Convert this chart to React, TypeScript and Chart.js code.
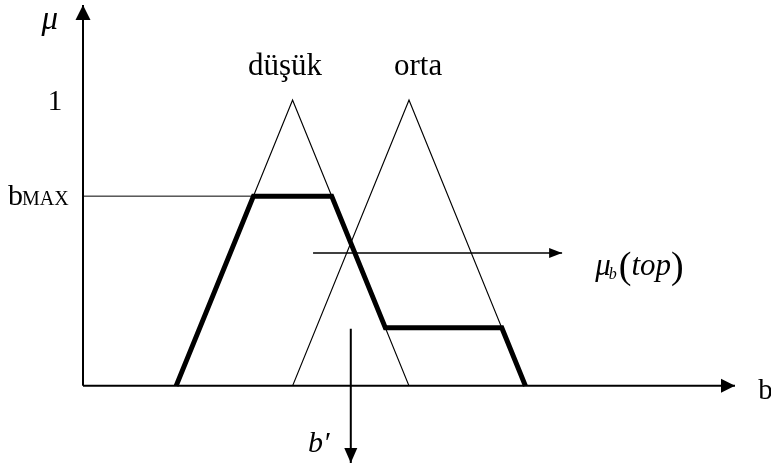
import React, { useEffect, useRef } from "react";
import { Chart, registerables } from "chart.js";

Chart.register(...registerables);

// Membership functions (x in b units, y in μ)
const dusukX = [1, 2, 3];
const dusukY = [0, 1, 0];
const ortaX = [2, 3, 4];
const ortaY = [0, 1, 0];
// Resulting (clipped) output set
const resultX = [1, 1.664, 2.336, 2.797, 3.797, 4];
const resultY = [0, 0.664, 0.664, 0.203, 0.203, 0];
// b_MAX level line
const bMaxLevel = 0.664;
const bMaxX = [0.2, 1.664];
// arrows
const topArrowX = [2.176, 4.315];
const topArrowY = [0.465, 0.465];
const primeArrowX = [2.5, 2.5];
const primeArrowY = [0.2, -0.27];
// axes
const xAxisX = [0.2, 5.8];
const xAxisY = [0, 0];
const yAxisX = [0.2, 0.2];
const yAxisY = [0, 1.333];
// tick label
const tickLabels = ["1"];
const tickValues = [1];

const pts = (xs: number[], ys: number[]) => xs.map((x, i) => ({ x, y: ys[i] }));

const SERIF = "'Liberation Serif', 'DejaVu Serif', serif";

export default function App() {
  const ref = useRef<HTMLCanvasElement | null>(null);

  useEffect(() => {
    if (!ref.current) return;
    const black = "#000";
    const base = {
      borderColor: black,
      pointRadius: 0,
      showLine: true,
      fill: false,
      tension: 0,
      clip: false as any,
    };

    const arrowPlugin = {
      id: "annot",
      afterDatasetsDraw(chart: any) {
        const ctx = chart.ctx as CanvasRenderingContext2D;
        const xs = chart.scales.x;
        const ys = chart.scales.y;
        const px = (v: number) => xs.getPixelForValue(v);
        const py = (v: number) => ys.getPixelForValue(v);
        ctx.save();
        ctx.fillStyle = black;

        // arrowheads at the last point of datasets flagged with arrow
        chart.data.datasets.forEach((ds: any) => {
          if (!ds.arrow) return;
          const d = ds.data;
          const a = d[d.length - 2];
          const b = d[d.length - 1];
          const x1 = px(a.x), y1 = py(a.y), x2 = px(b.x), y2 = py(b.y);
          const ang = Math.atan2(y2 - y1, x2 - x1);
          const L = ds.arrow.len, W = ds.arrow.half;
          ctx.beginPath();
          ctx.moveTo(x2, y2);
          ctx.lineTo(x2 - L * Math.cos(ang) + W * Math.sin(ang), y2 - L * Math.sin(ang) - W * Math.cos(ang));
          ctx.lineTo(x2 - L * Math.cos(ang) - W * Math.sin(ang), y2 - L * Math.sin(ang) + W * Math.cos(ang));
          ctx.closePath();
          ctx.fill();
        });

        const txt = (s: string, x: number, y: number) => ctx.fillText(s, x, y);

        ctx.textBaseline = "alphabetic";
        // μ axis title
        ctx.font = `italic 33px ${SERIF}`;
        ctx.textAlign = "center";
        txt("μ", px(-0.085), py(1.25));
        // tick "1"
        ctx.font = `29px ${SERIF}`;
        ctx.textBaseline = "middle";
        tickLabels.forEach((t, i) => txt(t, px(-0.04), py(tickValues[i]) + 2));
        ctx.textBaseline = "alphabetic";
        // b_MAX
        ctx.textAlign = "left";
        const bmx = px(-0.444);
        const bmy = py(bMaxLevel) + 9;
        ctx.font = `30px ${SERIF}`;
        txt("b", bmx, bmy);
        const bw = ctx.measureText("b").width;
        ctx.font = `20px ${SERIF}`;
        txt("MAX", bmx + bw - 1, bmy);
        // set names
        ctx.font = `31px ${SERIF}`;
        ctx.textAlign = "center";
        txt("düşük", px(1.935), py(1.089));
        txt("orta", px(3.078), py(1.089));
        // axis b
        ctx.textAlign = "left";
        ctx.font = `29px ${SERIF}`;
        txt("b", px(6.0), py(-0.0455));
        // b′
        ctx.font = `italic 30px ${SERIF}`;
        txt("b′", px(2.133), py(-0.231));
        // μb(top)
        let x0 = px(4.599);
        const y0 = py(0.389);
        ctx.font = `italic 31px ${SERIF}`;
        txt("μ", x0, y0);
        x0 += ctx.measureText("μ").width;
        ctx.font = `italic 16px ${SERIF}`;
        txt("b", x0 - 2, y0 + 4);
        x0 += ctx.measureText("b").width;
        ctx.font = `38px ${SERIF}`;
        txt("(", x0, y0 + 3);
        x0 += ctx.measureText("(").width;
        ctx.font = `italic 31px ${SERIF}`;
        txt("top", x0, y0);
        x0 += ctx.measureText("top").width;
        ctx.font = `38px ${SERIF}`;
        txt(")", x0, y0 + 3);
        ctx.restore();
      },
    };

    const chart = new Chart(ref.current, {
      type: "scatter",
      data: {
        datasets: [
          { ...base, label: "düşük", data: pts(dusukX, dusukY), borderWidth: 1.2 },
          { ...base, label: "orta", data: pts(ortaX, ortaY), borderWidth: 1.2 },
          { ...base, label: "bmax", data: pts(bMaxX, [bMaxLevel, bMaxLevel]), borderWidth: 1 },
          { ...base, label: "result", data: pts(resultX, resultY), borderWidth: 5, borderJoinStyle: "miter" },
          { ...base, label: "top", data: pts(topArrowX, topArrowY), borderWidth: 1.5, arrow: { len: 13, half: 5 } },
          { ...base, label: "prime", data: pts(primeArrowX, primeArrowY), borderWidth: 2, arrow: { len: 15, half: 6.5 } },
          { ...base, label: "xaxis", data: pts(xAxisX, xAxisY), borderWidth: 2, arrow: { len: 14, half: 7 } },
          { ...base, label: "yaxis", data: pts(yAxisX, yAxisY), borderWidth: 2, arrow: { len: 15, half: 7.5 } },
        ] as any,
      },
      options: {
        animation: false,
        responsive: false,
        layout: { padding: { left: 83, right: 36, top: 5, bottom: 4 } },
        plugins: { legend: { display: false }, tooltip: { enabled: false } },
        scales: {
          x: { type: "linear", min: 0.2, max: 5.8, display: false },
          y: { type: "linear", min: -0.27, max: 1.333, display: false },
        },
      },
      plugins: [arrowPlugin],
    });
    return () => chart.destroy();
  }, []);

  return (
    <div style={{ position: "absolute", left: 0, top: 0, width: 771, height: 467, background: "#fff" }}>
      <canvas ref={ref} width={771} height={467} style={{ width: 771, height: 467, display: "block" }} />
    </div>
  );
}
